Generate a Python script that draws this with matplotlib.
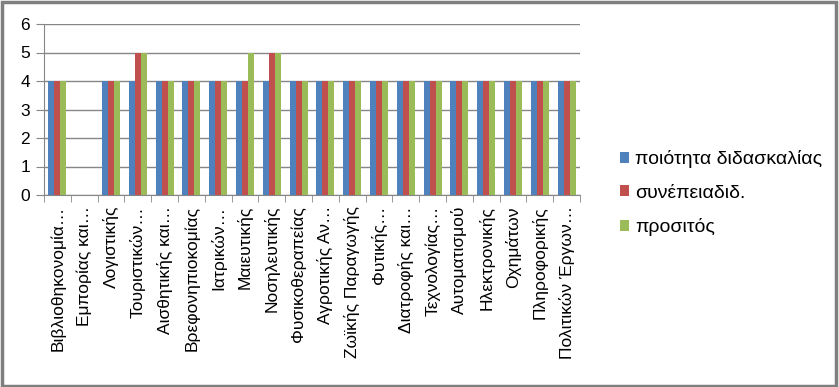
import matplotlib.pyplot as plt
import numpy as np
from matplotlib.patches import Rectangle

plt.rcParams["font.family"] = ["Liberation Sans", "DejaVu Sans"]

categorias = [
    "Βιβλιοθηκονομία…", "Εμπορίας και…", "Λογιστικής", "Τουριστικών…",
    "Αισθητικής και…", "Βρεφονηπιοκομίας", "Ιατρικών…", "Μαιευτικής",
    "Νοσηλευτικής", "Φυσικοθεραπείας", "Αγροτικής Αν…", "Ζωϊκής Παραγωγής",
    "Φυτικής…", "Διατροφής και…", "Τεχνολογίας…", "Αυτοματισμού",
    "Ηλεκτρονικής", "Οχημάτων", "Πληροφορικής", "Πολιτικών Έργων…",
]
poiotita = [4, 0, 4, 4, 4, 4, 4, 4, 4, 4, 4, 4, 4, 4, 4, 4, 4, 4, 4, 4]
synepeia = [4, 0, 4, 5, 4, 4, 4, 4, 5, 4, 4, 4, 4, 4, 4, 4, 4, 4, 4, 4]
prositos = [4, 0, 4, 5, 4, 4, 4, 5, 5, 4, 4, 4, 4, 4, 4, 4, 4, 4, 4, 4]
series = ["ποιότητα διδασκαλίας", "συνέπειαδιδ.", "προσιτός"]
colores = ["#4f81bd", "#c0504d", "#9bbb59"]

fig = plt.figure(figsize=(8.39, 3.87), dpi=100)
ax = fig.add_axes([44 / 839, 1 - 195 / 387, 536 / 839, 171 / 387])

x = np.arange(len(categorias))
ancho = 0.225
for i, (vals, nombre, color) in enumerate(zip([poiotita, synepeia, prositos], series, colores)):
    ax.bar(x + (i - 1) * ancho, vals, ancho, color=color, label=nombre, zorder=3)

ax.set_xlim(-0.5, len(categorias) - 0.5)
ax.set_ylim(0, 6)
ax.set_yticks(range(7))
ax.yaxis.grid(True, color="#868686", linewidth=1, zorder=0)
ax.tick_params(axis="y", length=6, color="#868686", labelsize=12.5, pad=4, direction="out")
for s in ["top", "right"]:
    ax.spines[s].set_visible(False)
ax.spines["left"].set_color("#868686")
ax.spines["bottom"].set_color("#868686")

ax.set_xticks(x)
ax.set_xticklabels(categorias, rotation=90, fontsize=12.5, va="top", ha="center")
ax.tick_params(axis="x", length=0, pad=8)
ax.set_xticks(np.arange(-0.5, len(categorias)), minor=True)
ax.tick_params(axis="x", which="minor", length=5, color="#868686", direction="out")

ax.legend(loc="center left", bbox_to_anchor=(602 / 839, 1 - 193 / 387),
          bbox_transform=fig.transFigure, frameon=False, fontsize=14,
          handlelength=0.5, handleheight=0.5, handletextpad=0.3, labelspacing=0.85)

fig.patches.append(Rectangle((0.002, 0.003), 0.994, 0.993, transform=fig.transFigure,
                             fill=False, edgecolor="#7f7f7f", linewidth=2.5))

fig.savefig("out.png", dpi=100)
